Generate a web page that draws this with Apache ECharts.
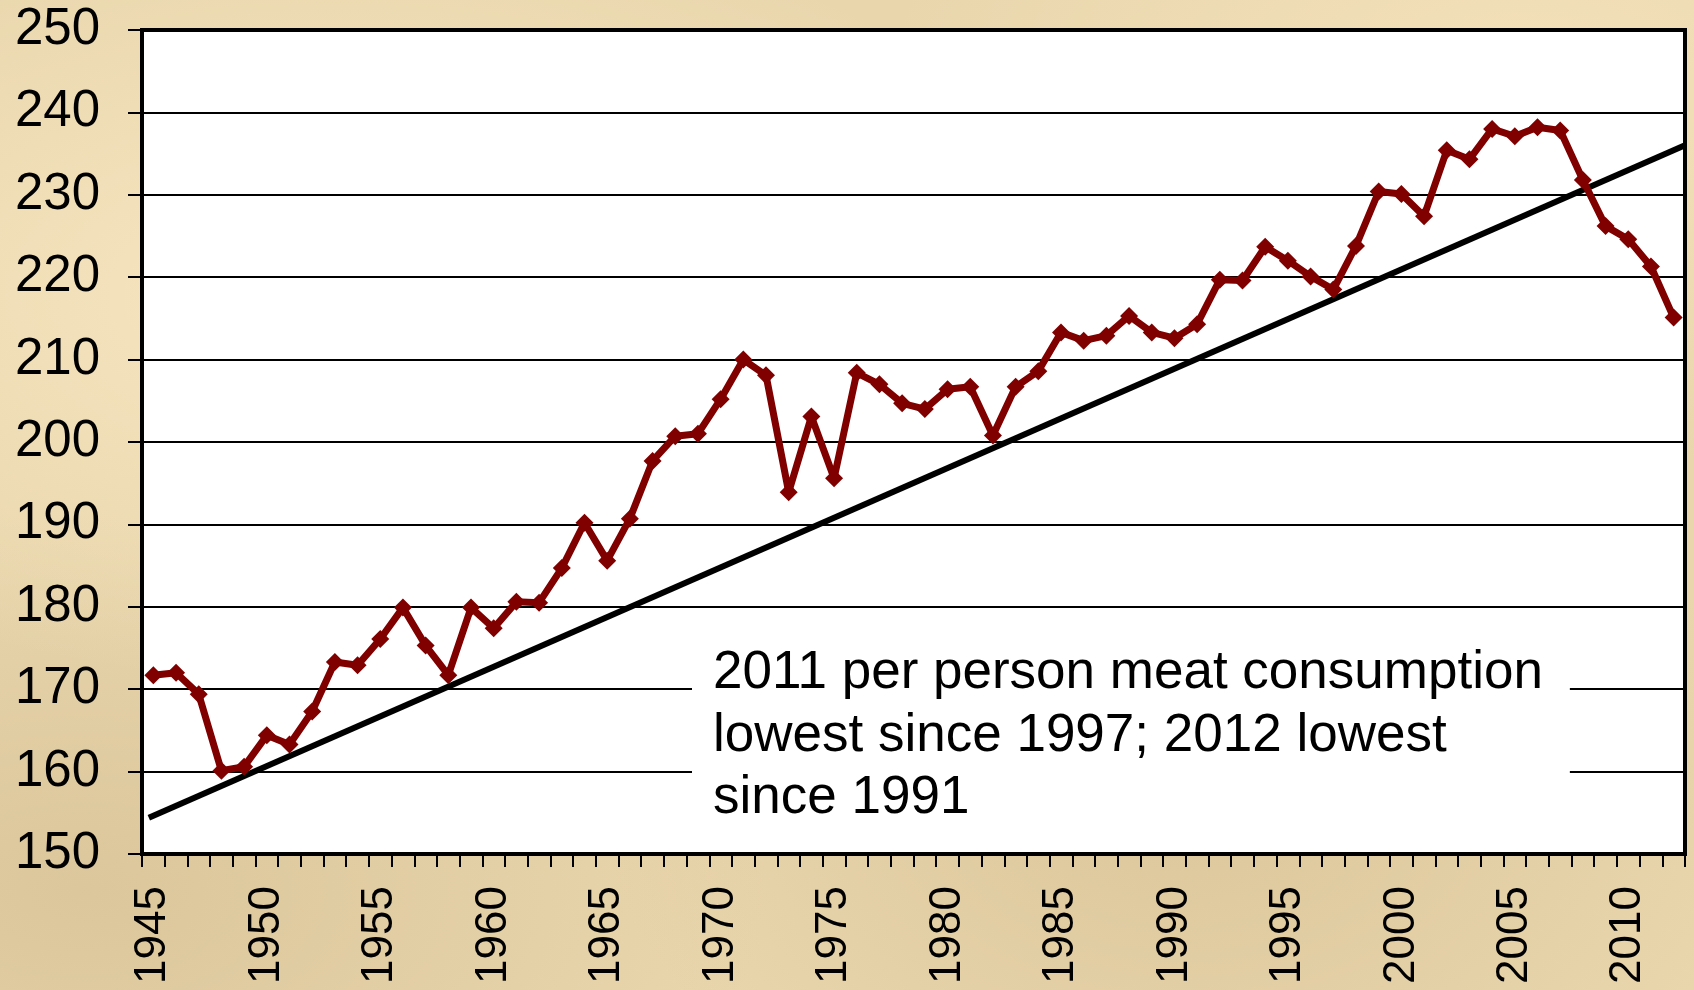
<!DOCTYPE html>
<html>
<head>
<meta charset="utf-8">
<script src="https://cdn.jsdelivr.net/npm/echarts@6/dist/echarts.min.js"></script>
<style>
  html, body { margin: 0; padding: 0; }
  body {
    background-color: #e9d6ad;
    background-image:
      radial-gradient(ellipse at 20% 30%, rgba(255,240,205,0.6), rgba(255,240,205,0) 40%),
      radial-gradient(ellipse at 70% 80%, rgba(205,180,135,0.45), rgba(205,180,135,0) 35%),
      radial-gradient(ellipse at 90% 10%, rgba(250,232,195,0.6), rgba(250,232,195,0) 30%),
      radial-gradient(ellipse at 5% 90%, rgba(200,175,130,0.4), rgba(200,175,130,0) 30%);
  }
  #chart { width: 1694px; height: 990px; }
</style>
</head>
<body>
<div id="chart"></div>
<script>
// years on the category axis
var years = [];
for (var y = 1945; y <= 2012; y++) years.push(String(y));

// per person meat consumption (lbs)
var consumption = [
  171.7, 172.0, 169.4, 160.1, 160.6,
  164.4, 163.3, 167.3, 173.3, 172.9,
  176.1, 179.9, 175.3, 171.7, 179.9,
  177.4, 180.6, 180.5, 184.7, 190.2,
  185.6, 190.7, 197.7, 200.7, 201.0,
  205.2, 210.0, 208.1, 193.9, 203.1,
  195.6, 208.4, 207.0, 204.7, 204.0,
  206.4, 206.7, 200.8, 206.7, 208.6,
  213.3, 212.3, 212.9, 215.3, 213.3,
  212.6, 214.3, 219.7, 219.6, 223.7,
  222.0, 220.1, 218.5, 223.8, 230.4,
  230.1, 227.4, 235.4, 234.3, 238.0,
  237.1, 238.2, 237.8, 231.8, 226.2,
  224.6, 221.3, 215.1
];

// straight trend line, end points
var trendX = [1944.8, 2012.5];
var trendY = [154.4, 236.0];

var note = "2011 per person meat consumption\nlowest since 1997; 2012 lowest\nsince 1991";

var font = "Liberation Sans";

var chart = echarts.init(document.getElementById("chart"));
chart.setOption({
  backgroundColor: "transparent",
  animation: false,
  grid: {
    show: true,
    left: 142,
    top: 30,
    right: 9,
    bottom: 136,
    containLabel: false,
    backgroundColor: "#fff",
    borderColor: "#000",
    borderWidth: 4
  },
  xAxis: [
    {
      type: "category",
      data: years,
      boundaryGap: true,
      axisLine: { lineStyle: { color: "#000", width: 4 } },
      axisTick: { show: true, interval: 0, length: 13, lineStyle: { color: "#000", width: 2 } },
      axisLabel: {
        interval: 4,
        rotate: 90,
        margin: 32,
        color: "#000",
        fontFamily: font,
        fontSize: 44
      },
      splitLine: { show: false }
    },
    {
      type: "value",
      min: 1944.5,
      max: 2012.5,
      show: false
    }
  ],
  yAxis: {
    type: "value",
    min: 150,
    max: 250,
    interval: 10,
    axisLine: { show: true, lineStyle: { color: "#000", width: 3 } },
    axisTick: { show: true, length: 14, lineStyle: { color: "#000", width: 2 } },
    axisLabel: {
      margin: 42,
      color: "#000",
      fontFamily: font,
      fontSize: 51
    },
    splitLine: { show: true, lineStyle: { color: "#000", width: 2 } }
  },
  series: [
    {
      type: "line",
      xAxisIndex: 1,
      data: [[trendX[0], trendY[0]], [trendX[1], trendY[1]]],
      symbol: "none",
      lineStyle: { color: "#000", width: 6 },
      z: 3
    },
    {
      type: "line",
      data: consumption,
      symbol: "diamond",
      symbolSize: 18,
      showAllSymbol: true,
      lineStyle: { color: "#800000", width: 7 },
      itemStyle: { color: "#800000" },
      z: 4
    }
  ],
  graphic: [
    {
      type: "text",
      left: 692,
      top: 632,
      z: 100,
      style: {
        text: note,
        fontFamily: font,
        fontSize: 53,
        lineHeight: 62.7,
        fill: "#000",
        backgroundColor: "#fff",
        padding: [10, 27, 18, 21]
      }
    }
  ]
});
</script>
</body>
</html>
